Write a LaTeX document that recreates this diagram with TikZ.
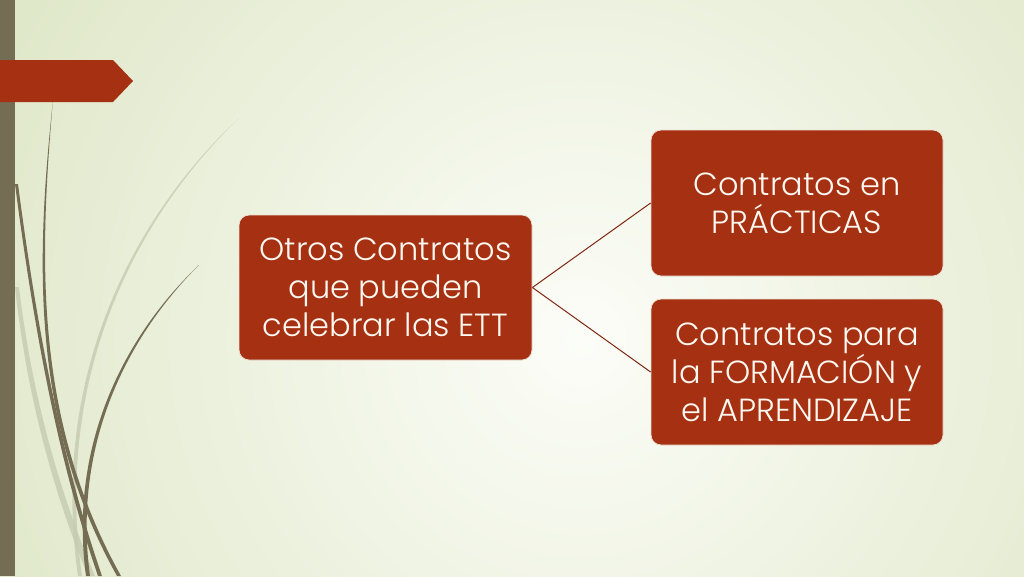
\documentclass[tikz,border=0pt]{standalone}
\usepackage{fontspec}
\setmainfont{Poppins}[UprightFont={* Light}]
\definecolor{bgedge}{RGB}{224,232,202}
\definecolor{bgmid}{RGB}{252,253,248}
\definecolor{boxred}{RGB}{165,48,18}
\definecolor{boxedge}{RGB}{238,226,212}
\definecolor{barcol}{RGB}{117,108,84}
\definecolor{lightcurve}{RGB}{196,203,176}
\definecolor{linkred}{RGB}{128,38,18}
\definecolor{txt}{RGB}{253,248,240}
\begin{document}
\begin{tikzpicture}[x=1pt,y=-1pt,
  box/.style={rectangle, rounded corners=10pt, fill=boxred, draw=boxedge,
    line width=0.8pt, text=txt, align=center, minimum width=292pt,
    minimum height=146pt, inner sep=0pt, font=\fontsize{32}{38}\selectfont},
  link/.style={draw=linkred, line width=1pt},
  darkc/.style={fill=barcol},
  lightc/.style={fill=lightcurve, fill opacity=0.8}]
\useasboundingbox (0,0) rectangle (1024,576);
% background
\fill[bgedge] (0,0) rectangle (1024,576);
\begin{scope}
\clip (0,0) rectangle (1024,576);
\shade[inner color=bgmid, outer color=bgedge] (580,340) circle (640);
\end{scope}
% decorative curves
\fill[lightc] (15,287) .. controls (25,380) and (48,480) .. (88,576)
  -- (95,576) .. controls (54,480) and (30,380) .. (19,287) -- cycle;
\fill[lightc] (238,119) .. controls (130,220) and (50,380) .. (78,576)
  -- (82,576) .. controls (54,380) and (132,222) .. (238,119) -- cycle;
\fill[darkc] (15,184) .. controls (34,330) and (58,460) .. (98,576)
  -- (102,576) .. controls (62,460) and (37,330) .. (18,184) -- cycle;
\fill[darkc] (53,100) .. controls (36,260) and (30,420) .. (117,576)
  -- (121,576) .. controls (34,420) and (39,260) .. (53,100) -- cycle;
\fill[darkc] (199,265) .. controls (120,340) and (69,450) .. (86,576)
  -- (90,576) .. controls (73,450) and (122,342) .. (199,265) -- cycle;
% left bar and banner
\fill[barcol] (0,0) rectangle (15,576);
\fill[boxred] (0,60) -- (113,60) -- (133,81) -- (113,102) -- (0,102) -- cycle;
% nodes
\node[box, minimum width=293pt, minimum height=145pt] (main) at (385.5,287.5)
  {Otros Contratos\\que pueden\\celebrar las ETT};
\node[box] (prac) at (797,203) {Contratos en\\PRÁCTICAS};
\node[box] (form) at (797,372) {Contratos para\\la FORMACIÓN y\\el APRENDIZAJE};
% connectors
\draw[link] (main.east) -- (prac.west);
\draw[link] (main.east) -- (form.west);
\end{tikzpicture}
\end{document}
